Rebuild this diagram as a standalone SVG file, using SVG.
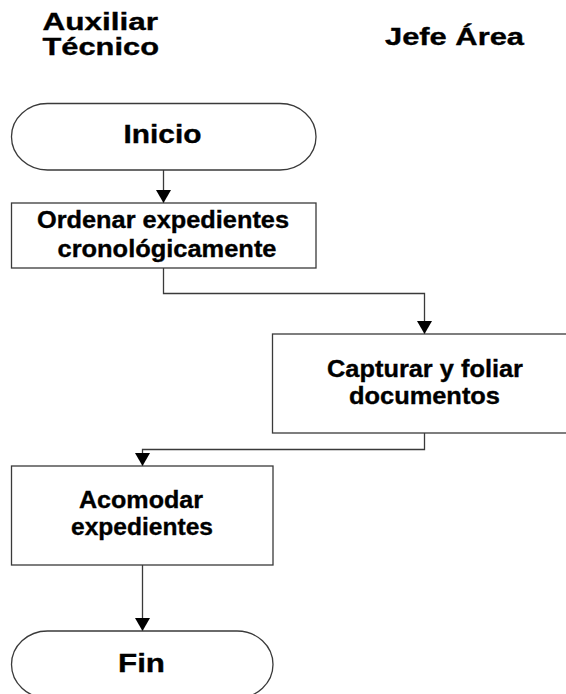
<svg xmlns="http://www.w3.org/2000/svg" width="566" height="694" viewBox="0 0 566 694">
<style>
.shape{fill:#fff;stroke:#3a3a3a;stroke-width:1.3}
.conn{fill:none;stroke:#3a3a3a;stroke-width:1.3}
text{font-family:"Liberation Sans",Arial,sans-serif;font-weight:bold;fill:#000;stroke:#000;stroke-width:0.35}
.hdr{font-size:24px}
.term{font-size:25px;text-anchor:middle}
.box{font-size:23.5px;text-anchor:middle}
</style>
<defs>
<marker id="arr" markerUnits="userSpaceOnUse" markerWidth="16" markerHeight="16" viewBox="0 0 16 16" refX="14" refY="8" orient="auto">
<path d="M1,0.5 L14,8 L1,15.5 Z" fill="#000" stroke="none"/>
</marker>
</defs>
<g id="headers">
<text class="hdr" x="42.5" y="30" textLength="115.5" lengthAdjust="spacingAndGlyphs">Auxiliar</text>
<text class="hdr" x="42.5" y="55" textLength="116.5" lengthAdjust="spacingAndGlyphs">Técnico</text>
<text class="hdr" x="385" y="45" textLength="139" lengthAdjust="spacingAndGlyphs">Jefe Área</text>
</g>
<g id="connectors">
<path class="conn" d="M163.5,170 V203" marker-end="url(#arr)"/>
<path class="conn" d="M163.5,268 V293.5 H424.5 V334" marker-end="url(#arr)"/>
<path class="conn" d="M424.5,433 V449.5 H142.5 V466" marker-end="url(#arr)"/>
<path class="conn" d="M142.5,565 V631" marker-end="url(#arr)"/>
</g>
<g id="inicio">
<rect class="shape" x="11.5" y="103.5" width="304.5" height="66.5" rx="36" ry="33"/>
<text class="term" x="162.5" y="143.3" textLength="78" lengthAdjust="spacingAndGlyphs">Inicio</text>
</g>
<g id="ordenar">
<rect class="shape" x="11.5" y="203" width="304.5" height="65"/>
<text class="box" x="163" y="228.3" textLength="252" lengthAdjust="spacingAndGlyphs">Ordenar expedientes</text>
<text class="box" x="167" y="256.7" textLength="219" lengthAdjust="spacingAndGlyphs">cronológicamente</text>
</g>
<g id="capturar">
<rect class="shape" x="272.5" y="334" width="310" height="99"/>
<text class="box" x="425" y="376.7" textLength="196" lengthAdjust="spacingAndGlyphs">Capturar y foliar</text>
<text class="box" x="424.5" y="404" textLength="151" lengthAdjust="spacingAndGlyphs">documentos</text>
</g>
<g id="acomodar">
<rect class="shape" x="11.5" y="466" width="261.5" height="99"/>
<text class="box" x="141" y="508" textLength="124" lengthAdjust="spacingAndGlyphs">Acomodar</text>
<text class="box" x="142" y="535" textLength="142" lengthAdjust="spacingAndGlyphs">expedientes</text>
</g>
<g id="fin">
<rect class="shape" x="11.5" y="631" width="261.5" height="67" rx="36" ry="33.5"/>
<text class="term" x="141.5" y="672" textLength="47" lengthAdjust="spacingAndGlyphs">Fin</text>
</g>
</svg>
